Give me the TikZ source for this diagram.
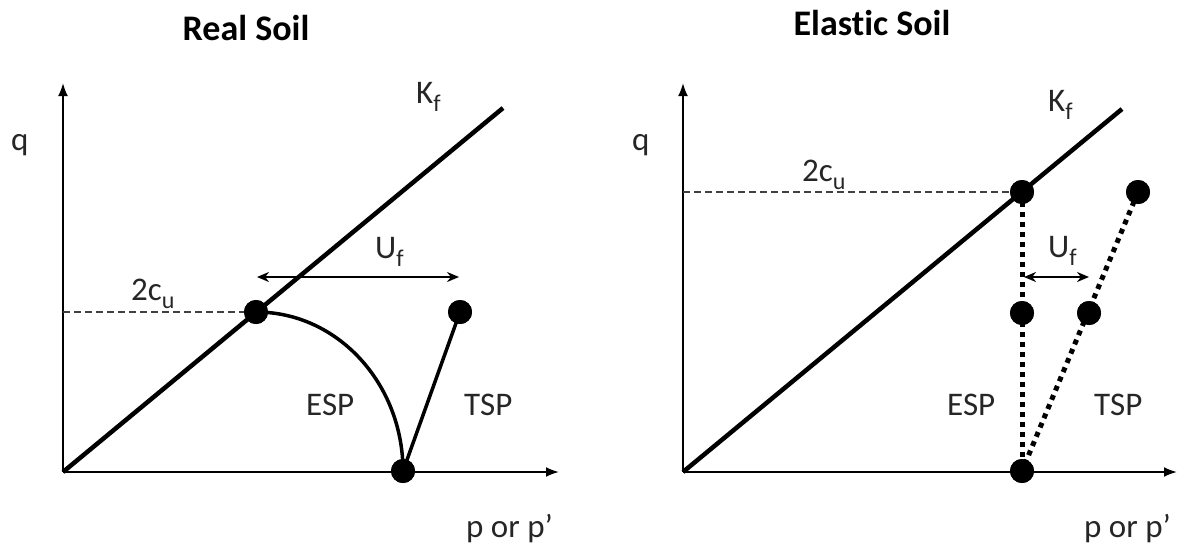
\documentclass[tikz,border=0pt]{standalone}
\usepackage{fontspec}
\setmainfont{Carlito}[Ligatures=NoCommon]
\usetikzlibrary{arrows.meta}
\newcommand\subtxt[1]{\raisebox{-0.27em}{\fontsize{24}{24}\selectfont #1}}
\begin{document}
\begin{tikzpicture}[x=1pt,y=-1pt,
  axis/.style={line width=2pt,-{Latex[length=13pt,width=10pt]}},
  kline/.style={line width=4.5pt},
  spline/.style={line width=3.5pt},
  dotline/.style={line width=5pt, dash pattern=on 5pt off 5pt},
  guide/.style={line width=1.5pt, dash pattern=on 7pt off 4pt, black!75},
  dimarrow/.style={line width=2pt,{Stealth[length=12pt,width=10pt]}-{Stealth[length=12pt,width=10pt]}},
  pt/.style={circle,fill=black,minimum size=24pt,inner sep=0pt},
  lbl/.style={font=\fontsize{33}{38}\selectfont, text=black!85, inner sep=0pt, anchor=base west},
  ttl/.style={font=\fontsize{36}{42}\selectfont\bfseries, inner sep=0pt}
]
\useasboundingbox (0,0) rectangle (1177,549);

% ---------- Left: Real Soil ----------
\coordinate (O1) at (63,472);
\coordinate (Y1) at (63,83);
\coordinate (X1) at (559,472);
\coordinate (K1) at (503,108);
\coordinate (G1) at (63,312);
\coordinate (UL1) at (257,277);
\coordinate (UR1) at (459,277);
\node[pt] (A1) at (256,312) {};
\node[pt] (B1) at (403,471) {};
\node[pt] (C1) at (460,312) {};

\draw[axis] (O1) -- (Y1);
\draw[axis] (O1) -- (X1);
\draw[kline] (O1) -- (K1);
\draw[guide] (G1) -- (A1.center);
\draw[spline] (A1.center) .. controls (338,312) and (403,384) .. (B1.center);
\draw[spline] (B1.center) -- (C1.center);
\draw[dimarrow] (UL1) -- (UR1);
\node[pt] at (A1) {};
\node[pt] at (B1) {};
\node[pt] at (C1) {};

\node[ttl] (t1) at (246,28) {Real Soil};
\node[lbl] (q1) at (11,150) {q};
\node[lbl] (kf1) at (416,103) {K\subtxt{f}};
\node[lbl] (uf1) at (375,258) {U\subtxt{f}};
\node[lbl] (cu1) at (131,300) {2c\subtxt{u}};
\node[lbl] (esp1) at (306,415) {ESP};
\node[lbl] (tsp1) at (464,415) {TSP};
\node[lbl] (p1) at (466,537) {p or p’};

% ---------- Right: Elastic Soil ----------
\coordinate (O2) at (683,472);
\coordinate (Y2) at (683,83);
\coordinate (X2) at (1177,472);
\coordinate (K2) at (1122,109);
\coordinate (G2) at (683,192);
\coordinate (UL2) at (1024,277);
\coordinate (UR2) at (1089,277);
\node[pt] (A2) at (1022,192) {};
\node[pt] (B2) at (1022,313) {};
\node[pt] (D2) at (1022,471) {};
\node[pt] (E2) at (1138,192) {};
\node[pt] (F2) at (1089,313) {};

\draw[axis] (O2) -- (Y2);
\draw[axis] (O2) -- (X2);
\draw[kline] (O2) -- (K2);
\draw[guide] (G2) -- (A2.center);
\draw[dotline] (A2.center) -- (D2.center);
\draw[dotline] (E2.center) -- (D2.center);
\draw[dimarrow] (UL2) -- (UR2);
\foreach \n in {A2,B2,D2,E2,F2} \node[pt] at (\n) {};

\node[ttl] (t2) at (872,23) {Elast\kern0pt ic Soil};
\node[lbl] (q2) at (632,150) {q};
\node[lbl] (kf2) at (1048,111) {K\subtxt{f}};
\node[lbl] (cu2) at (802,181) {2c\subtxt{u}};
\node[lbl] (uf2) at (1048,257) {U\subtxt{f}};
\node[lbl] (esp2) at (947,415) {ESP};
\node[lbl] (tsp2) at (1094,415) {TSP};
\node[lbl] (p2) at (1084,537) {p or p’};
\end{tikzpicture}
\end{document}
